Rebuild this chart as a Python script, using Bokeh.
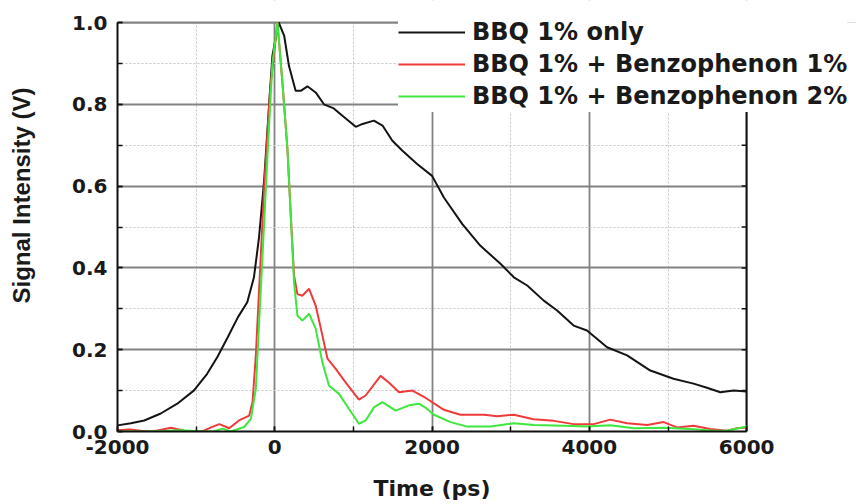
from bokeh.plotting import figure
from bokeh.models import (SingleIntervalTicker, FixedTicker, LinearAxis, Legend,
                          LegendItem, Range1d, NumeralTickFormatter, Title,
                          CustomJSTickFormatter)
from bokeh.embed import file_html
from bokeh.resources import INLINE

# ---- data ----
t_bbq = [-2000, -1830, -1660, -1450, -1240, -1030, -860, -730, -600, -470, -350,
         -265, -200, -136, -72, -30, 50, 120, 180, 265, 330, 415, 520, 625, 750,
         860, 1030, 1115, 1260, 1370, 1495, 1620, 1810, 2000, 2150, 2385, 2615,
         2870, 3040, 3210, 3420, 3590, 3800, 3970, 4225, 4480, 4775, 5070, 5325,
         5495, 5665, 5835, 6000]
v_bbq = [0.015, 0.020, 0.027, 0.044, 0.068, 0.100, 0.141, 0.182, 0.230, 0.279, 0.316,
         0.377, 0.475, 0.613, 0.800, 0.919, 1.000, 0.967, 0.894, 0.833, 0.833, 0.844,
         0.829, 0.800, 0.790, 0.772, 0.745, 0.752, 0.760, 0.748, 0.711, 0.687, 0.654,
         0.625, 0.572, 0.507, 0.454, 0.410, 0.377, 0.357, 0.320, 0.296, 0.259, 0.247,
         0.206, 0.186, 0.149, 0.129, 0.117, 0.107, 0.096, 0.100, 0.098]

t_b1 = [-2000, -1850, -1700, -1550, -1320, -1110, -900, -810, -705, -580, -455,
        -325, -283, -241, -199, -136, -59, 34, 97, 161, 203, 245, 288, 350, 436,
        520, 605, 670, 775, 900, 1070, 1155, 1345, 1450, 1580, 1750, 1920, 2150,
        2360, 2660, 2830, 3040, 3290, 3550, 3800, 4055, 4265, 4480, 4735, 4945,
        5115, 5325, 5535, 5750, 5875, 6000]
v_b1 = [0.003, 0.005, 0.002, 0.000, 0.009, 0.000, 0.002, 0.010, 0.018, 0.008, 0.027,
        0.039, 0.072, 0.186, 0.349, 0.593, 0.837, 1.000, 0.853, 0.690, 0.530, 0.381,
        0.336, 0.332, 0.349, 0.308, 0.235, 0.178, 0.153, 0.120, 0.078, 0.088, 0.136,
        0.120, 0.096, 0.100, 0.082, 0.053, 0.041, 0.041, 0.037, 0.041, 0.030, 0.026,
        0.018, 0.018, 0.029, 0.020, 0.016, 0.023, 0.010, 0.014, 0.006, 0.002, 0.008,
        0.010]

t_b2 = [-2000, -1600, -1200, -900, -780, -665, -560, -390, -304, -241, -199, -156,
        -93, -30, 34, 97, 161, 203, 245, 288, 351, 436, 521, 605, 690, 817, 944,
        1071, 1156, 1261, 1368, 1537, 1706, 1833, 1920, 2023, 2235, 2447, 2743, 3040,
        3293, 3674, 3971, 4267, 4564, 4944, 5283, 5579, 5749, 6000]
v_b2 = [0.000, 0.000, 0.003, 0.000, 0.000, 0.007, 0.000, 0.011, 0.031, 0.104, 0.267,
        0.430, 0.674, 0.900, 1.000, 0.853, 0.690, 0.528, 0.365, 0.283, 0.271, 0.288,
        0.251, 0.169, 0.112, 0.092, 0.055, 0.019, 0.027, 0.059, 0.072, 0.051, 0.064,
        0.068, 0.058, 0.041, 0.023, 0.012, 0.012, 0.020, 0.016, 0.014, 0.012, 0.015,
        0.008, 0.009, 0.006, 0.002, 0.002, 0.012]

series_names = ["BBQ 1% only", "BBQ 1% + Benzophenon 1%", "BBQ 1% + Benzophenon 2%"]
x_label = "Time (ps)"
y_label = "Signal Intensity (V)"
x_min, x_max = -2000, 6000
y_min, y_max = 0.0, 1.0
y_ticks_minor = [0.1, 0.2, 0.3, 0.4, 0.5, 0.6, 0.7, 0.8, 0.9]

# ---- layout constants ----
W, H = 856, 504
left, bottom = 116, 73
axis_px_x = 630            # pixels between x_min and x_max
axis_px_y = 409            # pixels between y_min and y_max
x_end = x_min + (x_max - x_min) * (W - left) / axis_px_x   # frame runs under legend
y_end = y_min + (y_max - y_min) * (H - bottom) / axis_px_y  # frame runs to the top
tick_len = 5 * (x_max - x_min) / axis_px_x

p = figure(width=W, height=H, output_backend="svg", toolbar_location=None,
           x_range=Range1d(x_min, x_end), y_range=Range1d(y_min, y_end),
           min_border_left=left, min_border_right=0, min_border_top=0,
           min_border_bottom=bottom)
p.background_fill_color = "white"
p.border_fill_color = "white"
p.outline_line_color = None

xt = SingleIntervalTicker(interval=2000, num_minor_ticks=2)
yt = SingleIntervalTicker(interval=0.2, num_minor_ticks=2)
p.xaxis.ticker = xt
p.yaxis.ticker = yt
p.xgrid.ticker = xt
p.ygrid.ticker = yt
p.xaxis.bounds = (x_min, x_max)
p.xgrid.bounds = (x_min, x_max)
p.yaxis.bounds = (y_min, y_max)
p.ygrid.bounds = (y_min, y_max)
p.xaxis.formatter = NumeralTickFormatter(format="0")
p.yaxis.formatter = NumeralTickFormatter(format="0.0")

grid_col = "#828282"
for g in (p.xgrid, p.ygrid):
    g.grid_line_color = grid_col
    g.grid_line_width = 1.8
    g.minor_grid_line_color = "#c4c4c4"
    g.minor_grid_line_width = 1
    g.minor_grid_line_dash = "2 2"

for ax in (p.xaxis, p.yaxis):
    ax.axis_line_color = "#111111"
    ax.axis_line_width = 2
    ax.major_tick_in = 5
    ax.major_tick_out = 0
    ax.minor_tick_in = 5
    ax.minor_tick_out = 0
    ax.major_tick_line_color = "#111111"
    ax.minor_tick_line_color = "#111111"
    ax.major_tick_line_width = 1.5
    ax.minor_tick_line_width = 1.5
    ax.major_label_text_font = "DejaVu Sans"
    ax.major_label_text_font_style = "bold"
    ax.major_label_text_font_size = "20px"
    ax.major_label_text_color = "#1a1a1a"
    ax.major_label_standoff = 8
p.yaxis.major_label_standoff = 10


def spacer_axis(tick, size):
    # an invisible axis whose only job is to take up `size` pixels
    return LinearAxis(ticker=FixedTicker(ticks=[tick], minor_ticks=[]),
                      axis_line_color=None, major_tick_in=0, major_tick_out=size,
                      major_tick_line_alpha=0, minor_tick_line_color=None,
                      major_label_standoff=0, major_label_text_font_size="0px",
                      formatter=CustomJSTickFormatter(code="return ''"))


p.add_layout(spacer_axis(y_min, 30), "left")
p.add_layout(Title(text=y_label, align="right", offset=87, vertical_align="bottom",
                   standoff=10, text_font="Liberation Sans", text_font_style="bold",
                   text_font_size="24px", text_color="#1a1a1a"), "left")

p.add_layout(spacer_axis(x_min, 17), "below")
p.add_layout(Title(text=x_label, align="left", offset=256, vertical_align="bottom",
                   standoff=0, text_font="DejaVu Sans", text_font_style="bold",
                   text_font_size="22px", text_color="#1a1a1a"), "below")

# blank the area right of x_max and above y_max
p.quad(left=[x_max, x_min], right=[x_end, x_end], bottom=[y_min, y_max],
       top=[y_max, y_end], fill_color="white", line_color=None)
# top frame line and right axis with inward ticks
p.line([x_min, x_max], [y_max, y_max], line_color=grid_col, line_width=1.8)
p.segment(x0=[x_max], x1=[x_max], y0=[y_min], y1=[y_max],
          line_color="#111111", line_width=2)
p.segment(x0=[x_max] * len(y_ticks_minor), x1=[x_max - tick_len] * len(y_ticks_minor),
          y0=y_ticks_minor, y1=y_ticks_minor, line_color="#111111", line_width=1.5)

r0 = p.line(t_bbq, v_bbq, line_color="#141414", line_width=2)
r1 = p.line(t_b1, v_b1, line_color="#f03a3a", line_width=2)
r2 = p.line(t_b2, v_b2, line_color="#3ee63e", line_width=2)

legend = Legend(items=[LegendItem(label=series_names[0], renderers=[r0]),
                       LegendItem(label=series_names[1], renderers=[r1]),
                       LegendItem(label=series_names[2], renderers=[r2])],
                location=(281, 319), orientation="vertical",
                label_text_font="DejaVu Sans", label_text_font_style="bold",
                label_text_font_size="24px", label_text_color="#1a1a1a",
                glyph_width=67, glyph_height=32, label_height=32, label_standoff=7,
                spacing=0, padding=5, margin=0,
                border_line_color=None, background_fill_color="white",
                background_fill_alpha=1.0)
p.add_layout(legend, "center")

open("out.html", "w").write(file_html(p, INLINE))
